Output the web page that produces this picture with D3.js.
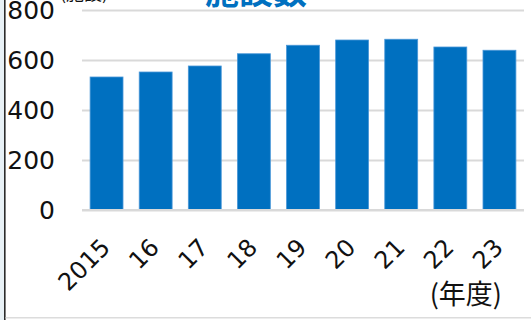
<!DOCTYPE html>
<html>
<head>
<meta charset="utf-8">
<script src="https://cdn.jsdelivr.net/npm/d3@7"></script>
<style>
  html, body { margin: 0; padding: 0; background: #fff; }
  svg { display: block; }
</style>
</head>
<body>
<svg id="chart" width="531" height="320"></svg>
<script>
// Number of facilities per fiscal year
const categories = ["2015", "16", "17", "18", "19", "20", "21", "22", "23"];
const values = [532, 552, 576, 625, 659, 680, 683, 652, 639];
const yTicks = [0, 200, 400, 600, 800];
const title = "施設数";
const unitLabel = "(施設)";
const xAxisLabel = "(年度)";

const svg = d3.select("#chart");
const W = 531, H = 320;
const blue = "#0070c0";
const numFont = "'DejaVu Sans', Verdana, sans-serif";
const cjkFont = "'Noto Sans CJK JP', 'Noto Sans', sans-serif";

// panel frame: pale strip at the left, dark rule, grey rule at the bottom
svg.append("rect").attr("x", 0).attr("y", 0).attr("width", 4).attr("height", H).attr("fill", "#e8f1f6");
svg.append("rect").attr("x", 4).attr("y", 0).attr("width", 1.6).attr("height", H).attr("fill", "#2b2b2b");
svg.append("rect").attr("x", 5.6).attr("y", 317).attr("width", W - 5.6).attr("height", 1.5).attr("fill", "#dcdcdc");

const x = d3.scaleBand()
  .domain(categories)
  .range([82, 524])
  .paddingInner(0.33)
  .paddingOuter(0.165);

const y = d3.scaleLinear()
  .domain([0, 800])
  .range([210, 10]);

// horizontal gridlines
const yAxis = d3.axisLeft(y).tickValues(yTicks).tickSize(-(524 - 82)).tickFormat("");
const gGrid = svg.append("g").attr("transform", "translate(82,0)").call(yAxis);
gGrid.select(".domain").remove();
gGrid.selectAll(".tick line").attr("stroke", "#d9d9d9").attr("stroke-width", 2);

// y tick labels
svg.append("g").selectAll("text")
  .data(yTicks)
  .join("text")
  .attr("x", 55)
  .attr("y", d => y(d))
  .attr("dy", "0.36em")
  .attr("text-anchor", "end")
  .attr("font-family", numFont)
  .attr("font-size", 25)
  .attr("fill", "#111")
  .text(d => d);

// bars
svg.append("g").selectAll("rect")
  .data(values)
  .join("rect")
  .attr("x", (d, i) => x(categories[i]))
  .attr("y", d => y(d))
  .attr("width", x.bandwidth())
  .attr("height", d => y(0) - y(d))
  .attr("fill", blue)
  .attr("stroke", "#4a97d8")
  .attr("stroke-width", 0.8);

// baseline redrawn above the bars
svg.append("line")
  .attr("x1", 82).attr("x2", 524)
  .attr("y1", y(0)).attr("y2", y(0))
  .attr("stroke", "#d9d9d9").attr("stroke-width", 2);

// rotated category labels
svg.append("g").selectAll("text")
  .data(categories)
  .join("text")
  .attr("transform", d => `translate(${x(d) + x.bandwidth() / 2 + 5},249) rotate(-45)`)
  .attr("text-anchor", "end")
  .attr("font-family", numFont)
  .attr("font-size", 24)
  .attr("fill", "#111")
  .text(d => d);

// x axis unit
svg.append("text")
  .attr("x", 502).attr("y", 304)
  .attr("text-anchor", "end")
  .attr("font-family", cjkFont)
  .attr("font-size", 27)
  .attr("fill", "#111")
  .text(xAxisLabel);

// y axis unit
svg.append("text")
  .attr("x", 60).attr("y", 0)
  .attr("font-family", cjkFont)
  .attr("font-size", 18)
  .attr("fill", "#111")
  .text(unitLabel);

// title
svg.append("text")
  .attr("x", 205).attr("y", 4)
  .attr("font-family", cjkFont)
  .attr("font-weight", "bold")
  .attr("font-size", 34)
  .attr("fill", blue)
  .text(title);
</script>
</body>
</html>
